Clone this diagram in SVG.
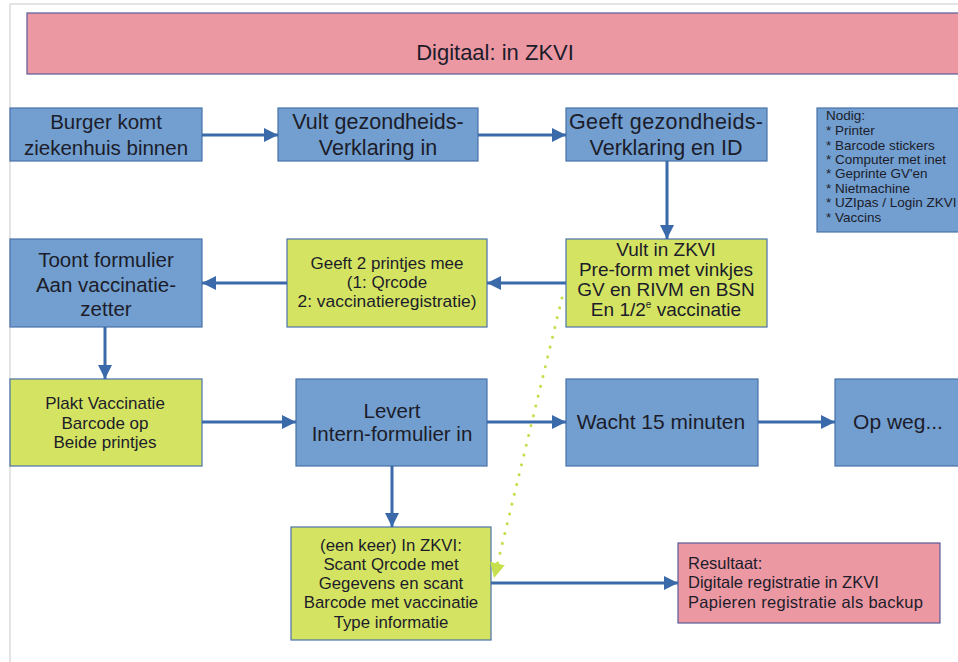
<svg xmlns="http://www.w3.org/2000/svg" width="958" height="662" viewBox="0 0 958 662">
<defs>
<marker id="ah" viewBox="0 0 10 10" refX="10" refY="5" markerWidth="4.8" markerHeight="4.8" orient="auto" markerUnits="strokeWidth">
<path d="M0,0 L10,5 L0,10 z" fill="#3a6aaa"/>
</marker>
<marker id="ahg" viewBox="0 0 10 10" refX="10" refY="5" markerWidth="5" markerHeight="6" orient="auto" markerUnits="strokeWidth">
<path d="M0,0 L10,5 L0,10 z" fill="#c6df4e"/>
</marker>
<style>
.blue{fill:#729fcf;stroke:#4a72a8;stroke-width:1.2}
.green{fill:#d4e462;stroke:#4a72a8;stroke-width:1.2}
.pink{fill:#ec98a3;stroke:#5a5a9a;stroke-width:1.2}
text{font-family:"Liberation Sans",Arial,sans-serif;fill:#1c1c2a}
.c{text-anchor:middle}
.con{stroke:#3a6aaa;stroke-width:3;fill:none;marker-end:url(#ah)}
.dot{stroke:#c6df4e;stroke-width:3;stroke-dasharray:0.1 10;stroke-linecap:round;fill:none;marker-end:url(#ahg)}
</style>
</defs>
<rect x="0" y="0" width="958" height="662" fill="#ffffff"/>
<path d="M10,662 V4 H958" fill="none" stroke="#dcdcdc" stroke-width="1.5"/>

<g id="banner">
<rect class="pink" x="27" y="13" width="940" height="61"/>
<text class="c" x="495" y="60" font-size="22">Digitaal: in ZKVI</text>
</g>

<g id="burger">
<rect class="blue" x="10" y="108" width="192" height="53"/>
<text class="c" font-size="20.5"><tspan x="106" y="129">Burger komt</tspan><tspan x="106" y="155">ziekenhuis binnen</tspan></text>
</g>

<g id="vult">
<rect class="blue" x="278" y="108" width="200" height="53"/>
<text class="c" font-size="21.5"><tspan x="378" y="129">Vult gezondheids-</tspan><tspan x="378" y="155">Verklaring in</tspan></text>
</g>

<g id="geeft">
<rect class="blue" x="566" y="108" width="201" height="53"/>
<text class="c" font-size="21.5"><tspan x="666" y="129" textLength="194" lengthAdjust="spacing">Geeft gezondheids-</tspan><tspan x="666" y="155">Verklaring en ID</tspan></text>
</g>

<g id="nodig">
<rect class="blue" x="817" y="108" width="145" height="124"/>
<text font-size="13.5"><tspan x="826" y="120">Nodig:</tspan><tspan x="826" y="135">* Printer</tspan><tspan x="826" y="149.5">* Barcode stickers</tspan><tspan x="826" y="164">* Computer met inet</tspan><tspan x="826" y="178">* Geprinte GV'en</tspan><tspan x="826" y="192.5">* Nietmachine</tspan><tspan x="826" y="207">* UZIpas / Login ZKVI</tspan><tspan x="826" y="222">* Vaccins</tspan></text>
</g>

<g id="toont">
<rect class="blue" x="10" y="239" width="192" height="88"/>
<text class="c" font-size="20.5"><tspan x="106" y="267">Toont formulier</tspan><tspan x="106" y="292">Aan vaccinatie-</tspan><tspan x="106" y="316">zetter</tspan></text>
</g>

<g id="printjes">
<rect class="green" x="287" y="239" width="200" height="88"/>
<text class="c" font-size="17"><tspan x="387" y="269">Geeft 2 printjes mee</tspan><tspan x="387" y="288">(1: Qrcode</tspan><tspan x="387" y="307" textLength="179" lengthAdjust="spacingAndGlyphs">2: vaccinatieregistratie)</tspan></text>
</g>

<g id="vultzkvi">
<rect class="green" x="566" y="239" width="201" height="88"/>
<text class="c" font-size="19"><tspan x="666" y="256">Vult in ZKVI</tspan><tspan x="666" y="276">Pre-form met vinkjes</tspan><tspan x="666" y="296">GV en RIVM en BSN</tspan><tspan x="666" y="316">En 1/2<tspan font-size="10" dy="-8">e</tspan><tspan dy="8"> vaccinatie</tspan></tspan></text>
</g>

<g id="plakt">
<rect class="green" x="10" y="379" width="192" height="87"/>
<text class="c" font-size="17"><tspan x="105" y="409">Plakt Vaccinatie</tspan><tspan x="105" y="429">Barcode op</tspan><tspan x="105" y="448">Beide printjes</tspan></text>
</g>

<g id="levert">
<rect class="blue" x="296" y="379" width="191" height="87"/>
<text class="c" font-size="20.5"><tspan x="392" y="418">Levert</tspan><tspan x="392" y="441">Intern-formulier in</tspan></text>
</g>

<g id="wacht">
<rect class="blue" x="566" y="379" width="192" height="87"/>
<text class="c" font-size="21"><tspan x="661" y="429">Wacht 15 minuten</tspan></text>
</g>

<g id="opweg">
<rect class="blue" x="835" y="379" width="130" height="87"/>
<text class="c" font-size="21"><tspan x="898" y="429">Op weg...</tspan></text>
</g>

<g id="eenkeer">
<rect class="green" x="291" y="527" width="200" height="113"/>
<text class="c" font-size="16.8"><tspan x="391" y="551">(een keer) In ZKVI:</tspan><tspan x="391" y="570">Scant Qrcode met</tspan><tspan x="391" y="589">Gegevens en scant</tspan><tspan x="391" y="608">Barcode met vaccinatie</tspan><tspan x="391" y="628">Type informatie</tspan></text>
</g>

<g id="resultaat">
<rect class="pink" x="678" y="543" width="262" height="80"/>
<text font-size="16.5"><tspan x="688" y="569">Resultaat:</tspan><tspan x="688" y="588">Digitale registratie in ZKVI</tspan><tspan x="688" y="608" textLength="235" lengthAdjust="spacing">Papieren registratie als backup</tspan></text>
</g>

<g id="connectors">
<line class="con" x1="202" y1="135" x2="278" y2="135"/>
<line class="con" x1="478" y1="135" x2="566" y2="135"/>
<line class="con" x1="667" y1="161" x2="667" y2="239"/>
<line class="con" x1="566" y1="283" x2="487" y2="283"/>
<line class="con" x1="287" y1="283" x2="202" y2="283"/>
<line class="con" x1="105" y1="327" x2="105" y2="379"/>
<line class="con" x1="202" y1="422" x2="296" y2="422"/>
<line class="con" x1="487" y1="422" x2="566" y2="422"/>
<line class="con" x1="758" y1="422" x2="835" y2="422"/>
<line class="con" x1="392" y1="466" x2="392" y2="527"/>
<line class="con" x1="491" y1="583" x2="678" y2="583"/>
<line class="dot" x1="562" y1="298" x2="494" y2="578"/>
</g>
</svg>
